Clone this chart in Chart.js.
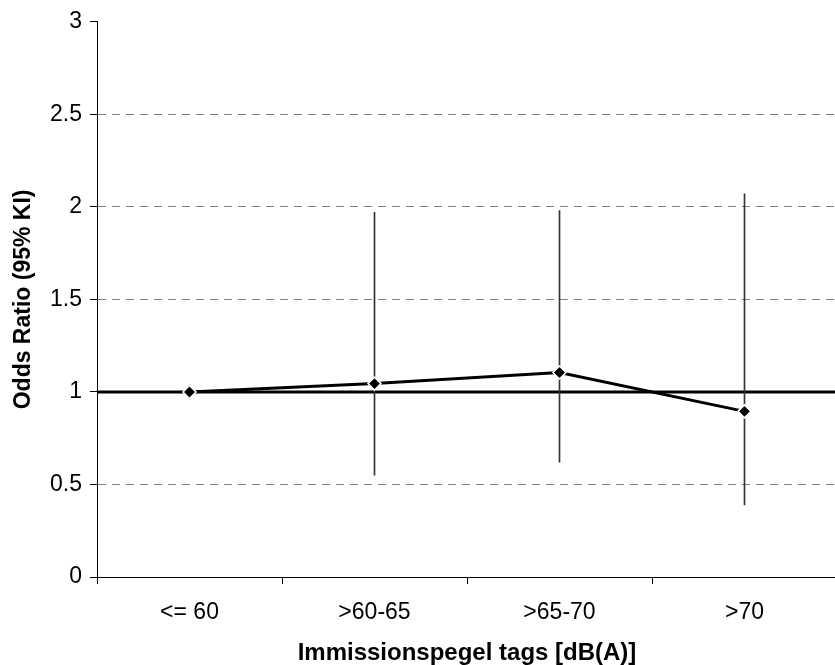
<!DOCTYPE html>
<html>
<head>
<meta charset="utf-8">
<script src="https://cdn.jsdelivr.net/npm/chart.js@4/dist/chart.umd.min.js"></script>
<style>
  body { margin: 0; overflow: hidden; background: #fff; }
  canvas { display: block; }
</style>
</head>
<body>
<canvas id="orChart" width="845" height="665"></canvas>
<script>
const categories = ['<= 60', '>60-65', '>65-70', '>70'];
const oddsRatios = [1.0, 1.045, 1.105, 0.895];
const ciLower = [null, 0.55, 0.62, 0.39];
const ciUpper = [null, 1.97, 1.98, 2.07];
const referenceOR = 1;
const yTicks = [0, 0.5, 1, 1.5, 2, 2.5, 3];

const fontFamily = '"Liberation Sans", Arial, sans-serif';

// floating bars used as the 95% KI whiskers
const ciRanges = ciLower.map((lo, i) => (lo === null ? null : [lo, ciUpper[i]]));

const referenceLine = {
    id: 'referenceLine',
    beforeDatasetsDraw(chart) {
        const { ctx, chartArea, scales } = chart;
        const y = scales.y.getPixelForValue(referenceOR);
        ctx.save();
        ctx.strokeStyle = '#000';
        ctx.lineWidth = 3;
        ctx.beginPath();
        ctx.moveTo(chartArea.left, y);
        ctx.lineTo(chartArea.right, y);
        ctx.stroke();
        ctx.restore();
    }
};

const ctx = document.getElementById('orChart').getContext('2d');

const orChart = new Chart(ctx, {
    data: {
        labels: categories,
        datasets: [{
            type: 'line',
            label: 'Odds Ratio',
            data: oddsRatios,
            borderColor: '#000',
            borderWidth: 3,
            pointStyle: 'rectRot',
            pointRadius: 6.5,
            pointBackgroundColor: '#000',
            pointBorderColor: '#fff',
            pointBorderWidth: 1.5,
            tension: 0,
            order: 0
        }, {
            type: 'bar',
            label: '95% KI',
            data: ciRanges,
            backgroundColor: '#333',
            barThickness: 1,
            order: 1
        }]
    },
    options: {
        responsive: false,
        animation: false,
        layout: {
            padding: { top: 20, right: 5, bottom: 0, left: 0 }
        },
        scales: {
            y: {
                min: 0,
                max: 3,
                afterFit: (scale) => { scale.width = 97; },
                afterBuildTicks: (scale) => { scale.ticks = yTicks.map(v => ({ value: v })); },
                ticks: {
                    color: '#000',
                    padding: 8,
                    callback: (v) => String(v),
                    font: { family: fontFamily, size: 23 }
                },
                grid: {
                    color: (c) => (c.tick && (c.tick.value === 0 || c.tick.value === 3)) ? 'rgba(0,0,0,0)' : '#7f7f7f',
                    lineWidth: 1,
                    tickColor: '#000',
                    tickLength: 7
                },
                border: {
                    color: '#000',
                    width: 1,
                    dash: [8, 6]
                },
                title: {
                    display: true,
                    text: 'Odds Ratio (95% KI)',
                    color: '#000',
                    padding: { top: 10, bottom: 0 },
                    font: { family: fontFamily, size: 23, weight: 'bold' }
                }
            },
            x: {
                offset: true,
                afterFit: (scale) => { scale.height = 88; },
                ticks: {
                    color: '#000',
                    padding: 15,
                    maxRotation: 0,
                    font: { family: fontFamily, size: 23 }
                },
                grid: {
                    offset: true,
                    drawOnChartArea: false,
                    tickColor: '#000',
                    tickLength: 7
                },
                border: {
                    color: '#000',
                    width: 1
                },
                title: {
                    display: true,
                    text: 'Immissionspegel tags [dB(A)]',
                    color: '#000',
                    padding: { top: 0, bottom: 0 },
                    font: { family: fontFamily, size: 24, weight: 'bold', lineHeight: 1.0 }
                }
            }
        },
        plugins: {
            legend: { display: false },
            tooltip: { enabled: false }
        }
    },
    plugins: [referenceLine]
});
</script>
</body>
</html>
